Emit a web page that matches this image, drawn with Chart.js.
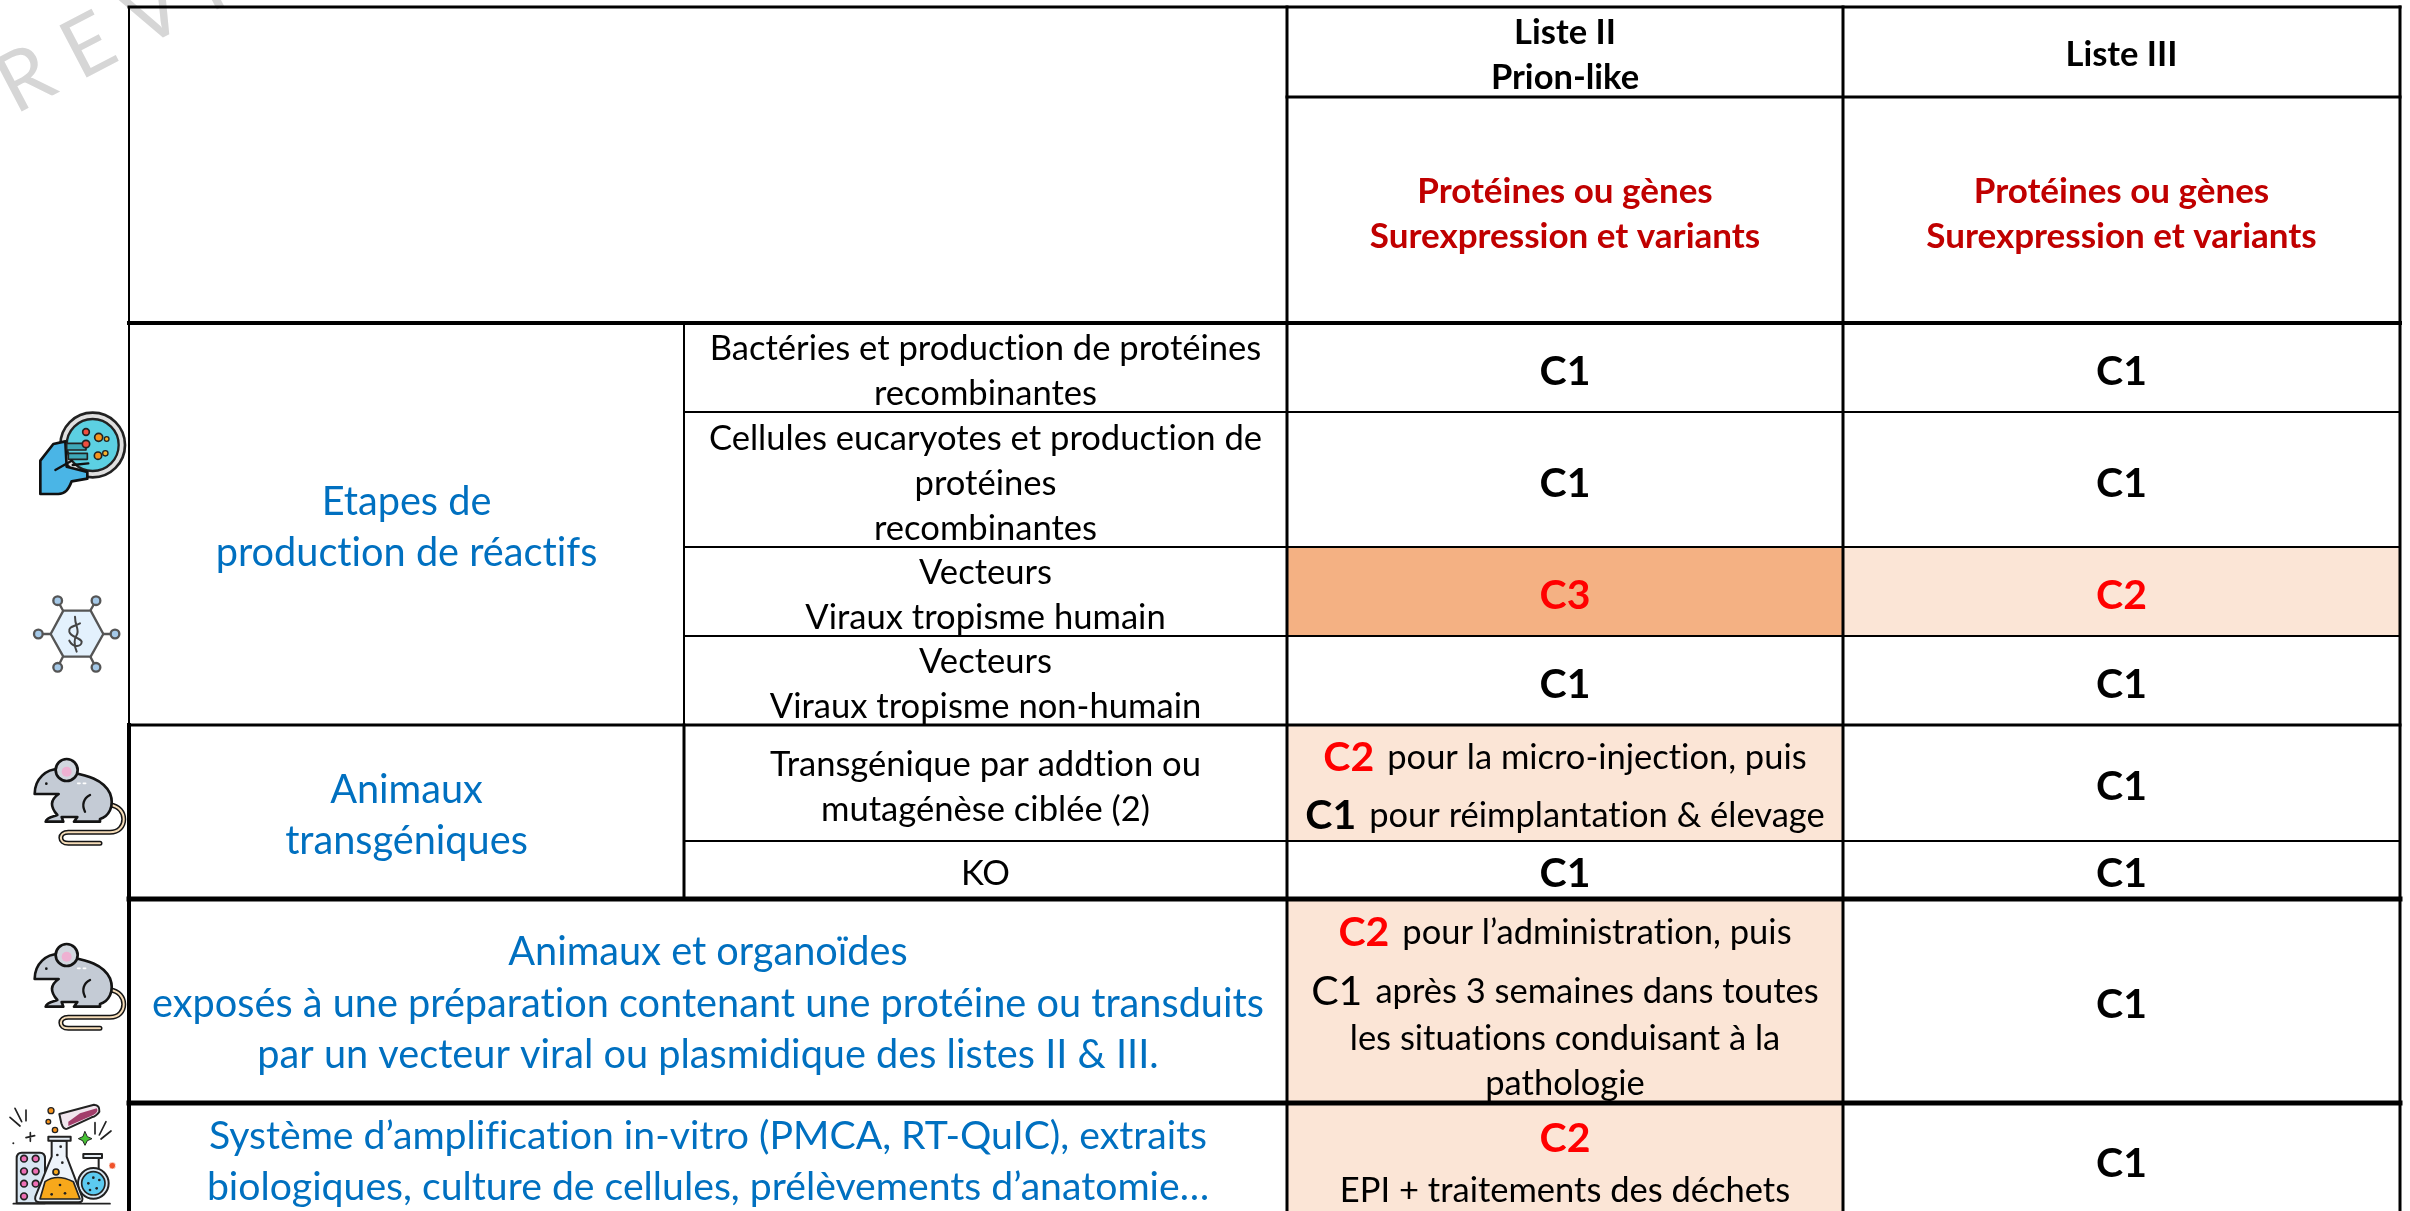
<!DOCTYPE html>
<html lang="fr">
<head>
<meta charset="utf-8">
<title>Classement des activités</title>
<script src="https://cdn.jsdelivr.net/npm/chart.js@4"></script>
<style>
  html, body { margin: 0; padding: 0; background: #fff; overflow: hidden; }
  canvas { display: block; }
</style>
</head>
<body>
<canvas id="grid" width="2410" height="1211"></canvas>
<script>
// Table content
const listHeaders = [['Liste II', 'Prion-like'], ['Liste III']];
const subHeader = ['Protéines ou gènes', 'Surexpression et variants'];
const groupLabels = [
  ['Etapes de', 'production de réactifs'],
  ['Animaux', 'transgéniques']
];
const wideLabels = [
  ['Animaux et organoïdes', 'exposés à une préparation contenant une protéine ou transduits', 'par un vecteur viral ou plasmidique des listes II & III.'],
  ['Système d’amplification in-vitro (PMCA, RT-QuIC), extraits', 'biologiques, culture de cellules, prélèvements d’anatomie…']
];
const stepLabels = [
  ['Bactéries et production de protéines', 'recombinantes'],
  ['Cellules eucaryotes et production de', 'protéines', 'recombinantes'],
  ['Vecteurs', 'Viraux tropisme humain'],
  ['Vecteurs', 'Viraux tropisme non-humain'],
  ['Transgénique par addtion ou', 'mutagénèse ciblée (2)'],
  ['KO']
];
const listIILevels = ['C1', 'C1', 'C3', 'C1', 'C2', 'C1', 'C2', 'C2'];
const listIIILevels = ['C1', 'C1', 'C2', 'C1', 'C1', 'C1', 'C1', 'C1'];
const listIINotes = [
  [['C2', 'pour la micro-injection, puis'], ['C1', 'pour réimplantation & élevage']],
  [['C2', 'pour l’administration, puis'], ['C1', 'après 3 semaines dans toutes'], ['', 'les situations conduisant à la'], ['', 'pathologie']],
  [['C2', ''], ['', 'EPI + traitements des déchets']]
];

// Grid geometry, in axis units
const colEdges = [129, 684, 1287, 1843, 2400];
const rowEdges = [7, 97, 323, 412, 547, 636, 725, 841, 899, 1103, 1217];
const noteLineY = [[756, 814], [931, 990, 1037, 1082], [1137, 1189]];

const BLUE = '#0070c0';
const DARK_RED = '#c00000';
const RED = '#ff0000';
const LEVEL_FILL = { C3: '#f4b183', C2: '#fbe5d6' };
const FONT = 'Lato, "Open Sans", sans-serif';

const levelRows = [2, 3, 4, 5, 6, 7, 8, 9];

// one floating bar per shaded cell
function cellBar(col, row, color) {
  const top = rowEdges[row], bottom = rowEdges[row + 1];
  return {
    type: 'bar',
    order: 3,
    grouped: false,
    data: [{ y: (top + bottom) / 2, x: [colEdges[col], colEdges[col + 1]] }],
    backgroundColor: color,
    barThickness: bottom - top,
    borderWidth: 0
  };
}

function rule(x0, y0, x1, y1, width) {
  return {
    type: 'line',
    order: 1,
    data: [{ x: x0, y: y0 }, { x: x1, y: y1 }],
    borderColor: '#000',
    borderWidth: width,
    borderCapStyle: 'square',
    pointRadius: 0,
    tension: 0
  };
}

const datasets = [];
listIILevels.forEach((lvl, i) => {
  if (LEVEL_FILL[lvl]) datasets.push(cellBar(2, levelRows[i], LEVEL_FILL[lvl]));
});
listIIILevels.forEach((lvl, i) => {
  if (LEVEL_FILL[lvl]) datasets.push(cellBar(3, levelRows[i], LEVEL_FILL[lvl]));
});

const [c0, c1, c2, c3, c4] = colEdges;
const [r0, r1, r2, r3, r4, r5, r6, r7, r8, r9, r10] = rowEdges;
datasets.push(
  rule(c0, r0, c4, r0, 3),
  rule(c2, r1, c4, r1, 3),
  rule(c0, r2, c4, r2, 4),
  rule(c1, r3, c4, r3, 2),
  rule(c1, r4, c4, r4, 2),
  rule(c1, r5, c4, r5, 2),
  rule(c0, r6, c4, r6, 3),
  rule(c1, r7, c4, r7, 2),
  rule(c0, r8, c4, r8, 5),
  rule(c0, r9, c4, r9, 5),
  rule(c0, r0, c0, r6, 2),
  rule(c0, r6, c0, r10, 4),
  rule(c1, r2, c1, r6, 2),
  rule(c1, r6, c1, r8, 3),
  rule(c2, r0, c2, r10, 3),
  rule(c3, r0, c3, r10, 3),
  rule(c4, r0, c4, r10, 3)
);

function centerLines(ctx, lines, x, y, gap, font, color) {
  ctx.font = font;
  ctx.fillStyle = color;
  ctx.textAlign = 'center';
  ctx.textBaseline = 'middle';
  const start = y - gap * (lines.length - 1) / 2;
  lines.forEach((line, i) => ctx.fillText(line, x, start + i * gap));
}

// "C2 pour la ..." lines: big level code followed by regular text
function noteLine(ctx, level, text, x, y, levelBold) {
  const levelFont = (levelBold ? 'bold ' : '') + '41px ' + FONT;
  const textFont = '34.5px ' + FONT;
  ctx.textAlign = 'left';
  ctx.textBaseline = 'middle';
  ctx.font = levelFont;
  const lw = level ? ctx.measureText(level).width : 0;
  ctx.font = textFont;
  const tw = text ? ctx.measureText(text).width : 0;
  const gap = level && text ? 13 : 0;
  let left = x - (lw + gap + tw) / 2;
  if (level) {
    ctx.font = levelFont;
    ctx.fillStyle = level === 'C1' ? '#000' : RED;
    ctx.fillText(level, left, y);
    left += lw + gap;
  }
  if (text) {
    ctx.font = textFont;
    ctx.fillStyle = '#000';
    ctx.fillText(text, left, y);
  }
}

const tablePlugin = {
  id: 'tableText',
  beforeDatasetsDraw(chart) {
    const ctx = chart.ctx;
    // watermark
    ctx.save();
    ctx.translate(15, 115);
    ctx.rotate(-27.6 * Math.PI / 180);
    ctx.font = '400 82px ' + FONT;
    ctx.letterSpacing = '22px';
    ctx.fillStyle = '#d6d6d6';
    ctx.textAlign = 'left';
    ctx.textBaseline = 'alphabetic';
    ctx.fillText('REVI', 0, 0);
    ctx.restore();
  },
  afterDatasetsDraw(chart) {
    const ctx = chart.ctx;
    const x = chart.scales.x, y = chart.scales.y;
    const midX = (a, b) => x.getPixelForValue((colEdges[a] + colEdges[b]) / 2);
    const midY = (a, b) => y.getPixelForValue((rowEdges[a] + rowEdges[b]) / 2);
    const body = '34.6px ' + FONT;
    const blue = '39.7px ' + FONT;
    const big = 'bold 41px ' + FONT;
    ctx.save();
    ctx.translate(0, 2); // middle baseline of Lato sits a bit high
    ctx.textRendering = 'optimizeSpeed'; // no ti/fi ligatures, the reference has none

    // headers
    listHeaders.forEach((lines, i) => {
      centerLines(ctx, lines, midX(2 + i, 3 + i), midY(0, 1) + 1, 45, 'bold 34.5px ' + FONT, '#000');
      centerLines(ctx, subHeader, midX(2 + i, 3 + i), midY(1, 2) + 2, 45, 'bold 35px ' + FONT, DARK_RED);
    });

    // blue row groups
    centerLines(ctx, groupLabels[0], midX(0, 1), midY(2, 6) + 2, 51, blue, BLUE);
    centerLines(ctx, groupLabels[1], midX(0, 1), midY(6, 8) + 2, 51, blue, BLUE);
    centerLines(ctx, wideLabels[0], midX(0, 2), midY(8, 9) + 1, 51.5, blue, BLUE);
    centerLines(ctx, wideLabels[1], midX(0, 2), midY(9, 10), 51, '39.2px ' + FONT, BLUE);

    // step labels
    stepLabels.forEach((lines, i) => {
      centerLines(ctx, lines, midX(1, 2), midY(2 + i, 3 + i) + 2, 45, body, '#000');
    });

    // level codes
    listIIILevels.forEach((lvl, i) => {
      const color = lvl === 'C1' ? '#000' : RED;
      centerLines(ctx, [lvl], midX(3, 4), midY(levelRows[i], levelRows[i] + 1) + 2, 45, big, color);
    });
    listIILevels.forEach((lvl, i) => {
      if ([4, 6, 7].includes(i)) return; // those rows hold a note instead
      const color = lvl === 'C1' ? '#000' : RED;
      centerLines(ctx, [lvl], midX(2, 3), midY(levelRows[i], levelRows[i] + 1) + 2, 45, big, color);
    });

    // notes in the Liste II column
    listIINotes.forEach((note, n) => {
      note.forEach(([level, text], i) => {
        const plainC1 = n === 1 && i === 1;
        noteLine(ctx, level, text, midX(2, 3), y.getPixelForValue(noteLineY[n][i]), !plainC1);
      });
    });
    ctx.restore();

    drawPetri(ctx);
    drawVirus(ctx);
    drawMouse(ctx, 0);
    drawMouse(ctx, 185);
    drawLab(ctx);
  }
};

// Icons. Shapes use 3x zoom coordinates.
function disc(ctx, x, y, r, fill, stroke, lw) {
  ctx.beginPath();
  ctx.arc(x, y, r, 0, Math.PI * 2);
  if (fill) { ctx.fillStyle = fill; ctx.fill(); }
  if (stroke) { ctx.strokeStyle = stroke; ctx.lineWidth = lw; ctx.stroke(); }
}

function path(ctx, d, fill, stroke, lw) {
  const p = new Path2D(d);
  if (fill) { ctx.fillStyle = fill; ctx.fill(p); }
  if (stroke) { ctx.strokeStyle = stroke; ctx.lineWidth = lw; ctx.stroke(p); }
}

function drawPetri(ctx) {
  ctx.save();
  ctx.translate(0, 400);
  ctx.scale(1 / 3, 1 / 3);
  ctx.lineJoin = 'round';
  ctx.lineCap = 'round';
  disc(ctx, 278, 135, 97, '#e0e0e0', '#222', 8);
  disc(ctx, 278, 135, 78, '#5cd0e2', '#222', 7);
  disc(ctx, 258, 96, 10, '#f04e3e', '#222', 5);
  disc(ctx, 296, 112, 12, '#f7941d', '#222', 5);
  disc(ctx, 320, 117, 7, '#f7b32b', '#222', 4);
  disc(ctx, 294, 167, 11, '#f7941d', '#222', 5);
  disc(ctx, 316, 160, 8, '#f7b32b', '#222', 4);
  path(ctx, 'M121 282 L121 182 L160 132 L196 124 L200 200 L262 216 L262 236 L215 244 C205 270 195 282 175 282 Z', '#4ab5e6', '#111', 8);
  path(ctx, 'M200 130 H258 V150 H200 Z M205 160 H262 V178 H205 Z', '#3fa9b8', '#222', 5);
  path(ctx, 'M166 210 L215 182 M218 195 L265 190', null, '#111', 7);
  disc(ctx, 258, 132, 11, '#f04e3e', '#222', 5);
  ctx.restore();
}

function drawVirus(ctx) {
  ctx.save();
  ctx.translate(0, 400);
  ctx.scale(1 / 3, 1 / 3);
  ctx.lineJoin = 'round';
  ctx.lineCap = 'round';
  const ink = '#555';
  path(ctx, 'M188 630 L173 602 M272 630 L288 602 M152 702 H115 M310 702 H345 M188 772 L173 802 M272 772 L288 802', null, ink, 7);
  path(ctx, 'M152 702 L190 632 H272 L310 702 L272 770 H190 Z', '#e3f1fd', ink, 7);
  [[173, 602], [288, 602], [115, 702], [345, 702], [173, 802], [288, 802]].forEach(([a, b]) => {
    disc(ctx, a, b, 13, '#a5c9e8', ink, 7);
  });
  path(ctx, 'M225 650 C225 680 240 690 230 705 C220 720 222 735 230 755 M240 670 C220 680 205 680 208 695 C212 712 240 712 245 725 C245 740 220 745 208 722', null, '#444', 6);
  ctx.restore();
}

function drawMouse(ctx, dy) {
  ctx.save();
  ctx.translate(0, 770 + dy);
  ctx.scale(1 / 3, 1 / 3);
  ctx.translate(0, -465);
  ctx.lineJoin = 'round';
  ctx.lineCap = 'round';
  const ink = '#141414';
  const tail = 'M330 570 C385 575 385 652 330 652 H205 C175 652 175 685 205 685 H300';
  path(ctx, tail, null, ink, 15);
  path(ctx, tail, null, '#f5dcb8', 6);
  path(ctx, 'M104 537 C104 490 140 462 175 462 C215 478 300 475 330 535 C345 575 325 605 300 612 V620 H222 L232 606 H185 L190 620 H137 C140 605 165 605 172 600 C150 575 150 555 176 537 Z', '#c4cbd5', ink, 8);
  disc(ctx, 200, 465, 33, '#d2d7df', ink, 8);
  disc(ctx, 200, 470, 15, '#eeb1d2');
  disc(ctx, 139, 506, 4, ink);
  path(ctx, 'M270 540 C250 550 245 570 255 590', null, ink, 7);
  path(ctx, 'M233 505 H240 M250 505 H257', null, '#fff', 5);
  ctx.restore();
}

function drawLab(ctx) {
  ctx.save();
  ctx.translate(0, 800);
  ctx.scale(1 / 3, 1 / 3);
  ctx.lineJoin = 'round';
  ctx.lineCap = 'round';
  const ink = '#222';
  // sparks
  path(ctx, 'M45 925 L65 965 M30 952 L60 978 M78 930 V962 M285 968 V1002 M318 965 L298 1005 M333 993 L303 1017 M78 1013 L104 1007 M91 998 V1024', null, ink, 5);
  disc(ctx, 40, 1030, 3, ink);
  // pill plate
  path(ctx, 'M50 1210 V1075 Q50 1058 65 1058 H120 Q135 1058 135 1075 V1210 Z', '#d8e6f2', ink, 6);
  [[72, 1076], [107, 1076], [72, 1114], [107, 1114], [72, 1151], [107, 1151], [72, 1189]].forEach(([a, b]) => {
    disc(ctx, a, b, 10, '#ee6fb5', ink, 5);
  });
  // round flask
  path(ctx, 'M262 1070 H296 V1105', null, ink, 6);
  disc(ctx, 280, 1150, 46, '#dbe9f4', ink, 6);
  disc(ctx, 280, 1150, 35, '#5ccaf0', ink, 5);
  path(ctx, 'M250 1062 H306 V1074 H250 Z', '#e6edf4', ink, 6);
  [[280, 1133], [298, 1140], [265, 1150], [290, 1165], [270, 1170]].forEach(([a, b]) => disc(ctx, a, b, 4, ink));
  // conical flask
  path(ctx, 'M155 1022 V1070 L106 1190 Q102 1207 120 1207 H235 Q252 1207 246 1190 L200 1070 V1022 Z', '#eef4fa', ink, 6);
  path(ctx, 'M145 1010 H212 V1022 H145 Z', '#e6edf4', ink, 6);
  path(ctx, 'M135 1145 Q170 1120 220 1145 L240 1197 H120 Z', '#f7a81b', ink, 5);
  disc(ctx, 168, 1116, 9, '#f7a81b', ink, 5);
  [[182, 1040], [172, 1065], [187, 1088], [180, 1155], [155, 1183], [195, 1180]].forEach(([a, b]) => disc(ctx, a, b, 4, ink));
  path(ctx, 'M40 1211 H330', null, ink, 5);
  // test tube
  path(ctx, 'M178 942 L282 914 Q300 915 298 935 Q290 948 275 952 L202 986 Q190 990 184 970 Z', '#f1e6ee', ink, 6);
  path(ctx, 'M205 965 L240 940 L290 925 Q298 935 280 945 L205 978 Z', '#a23e6b');
  disc(ctx, 153, 932, 9, '#f7941d', ink, 4);
  disc(ctx, 145, 965, 7, '#f7941d', ink, 4);
  disc(ctx, 165, 990, 8, '#f7941d', ink, 4);
  disc(ctx, 337, 1097, 10, '#f0532b', '#fff', 2);
  path(ctx, 'M255 995 L262 1010 L276 1016 L262 1022 L255 1036 L248 1022 L235 1016 L248 1010 Z', '#46c234', ink, 3);
  ctx.restore();
}

new Chart(document.getElementById('grid'), {
  type: 'bar',
  data: { datasets },
  options: {
    indexAxis: 'y',
    responsive: false,
    animation: false,
    events: [],
    layout: { padding: 0 },
    plugins: { legend: { display: false }, tooltip: { enabled: false }, title: { display: false } },
    scales: {
      x: { type: 'linear', display: false, min: 0, max: 2410, offset: false },
      y: { type: 'linear', display: false, min: 0, max: 1211, reverse: true, offset: false }
    }
  },
  plugins: [tablePlugin]
});
</script>
</body>
</html>
